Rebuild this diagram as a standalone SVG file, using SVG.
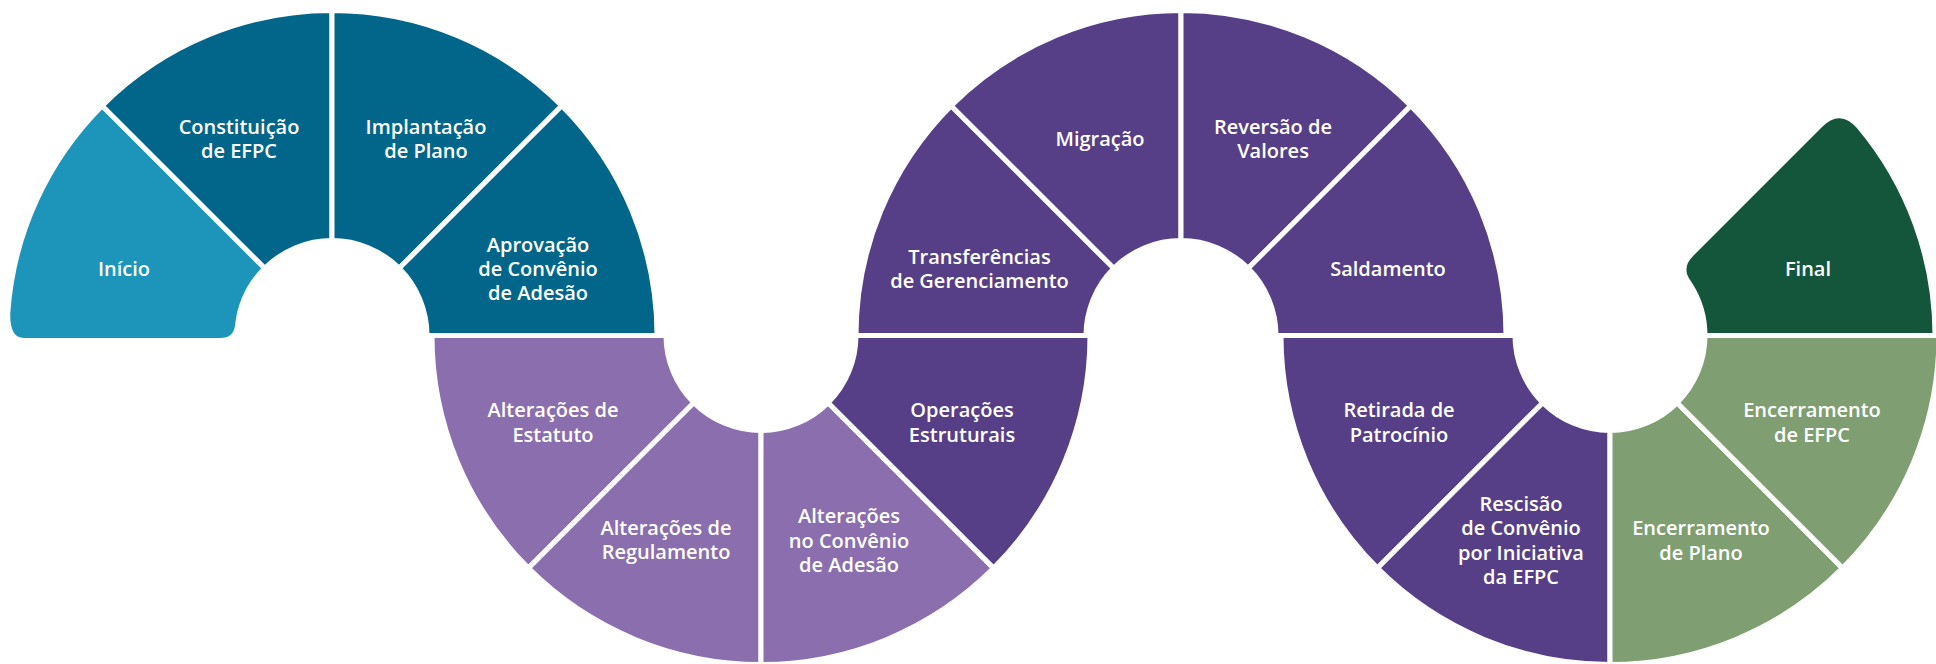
<svg xmlns="http://www.w3.org/2000/svg" width="1936" height="664" viewBox="0 0 1936 664">
<style>
.seg{stroke:#ffffff;stroke-width:5;stroke-linejoin:miter}
.start{fill:#1d94b9}
.teal{fill:#02668a}
.lp{fill:#8a6ead}
.dp{fill:#563f87}
.lg{fill:#7f9f72}
.dg{fill:#14563c}
text{font-family:"Open Sans","Liberation Sans",sans-serif;font-weight:600;font-size:20px;fill:#ffffff;text-anchor:middle}
</style>
<rect width="1936" height="664" fill="#ffffff"/>
<g id="connectors"></g>
<g id="inicio">
<path class="seg start" d="M102.19 105.69 A325 325 0 0 0 7.79 312.83 Q7 340.5 24 340.5 L220 340.5 Q236 340.5 237.52 325.57 A95 95 0 0 1 264.82 268.32 Z"/>
<text x="124" y="276">Início</text>
</g>
<g id="constituicao">
<path class="seg teal" d="M332 240.5 L332 10.5 A325 325 0 0 0 102.19 105.69 L264.82 268.32 A95 95 0 0 1 332 240.5 Z"/>
<text x="239" y="134">Constituição</text>
<text x="239" y="157.5">de EFPC</text>
</g>
<g id="implantacao">
<path class="seg teal" d="M399.18 268.32 L561.81 105.69 A325 325 0 0 0 332 10.5 L332 240.5 A95 95 0 0 1 399.18 268.32 Z"/>
<text x="426" y="134">Implantação</text>
<text x="426" y="157.5">de Plano</text>
</g>
<g id="aprovacao">
<path class="seg teal" d="M427 335.5 L657 335.5 A325 325 0 0 0 561.81 105.69 L399.18 268.32 A95 95 0 0 1 427 335.5 Z"/>
<text x="538" y="252">Aprovação</text>
<text x="538" y="276">de Convênio</text>
<text x="538" y="300">de Adesão</text>
</g>
<g id="alt-estatuto">
<path class="seg lp" d="M693.82 402.68 L528.36 568.14 A329 329 0 0 1 432 335.5 L666 335.5 A95 95 0 0 0 693.82 402.68 Z"/>
<text x="553" y="417">Alterações de</text>
<text x="553" y="441.5">Estatuto</text>
</g>
<g id="alt-regulamento">
<path class="seg lp" d="M761 430.5 L761 664.5 A329 329 0 0 1 528.36 568.14 L693.82 402.68 A95 95 0 0 0 761 430.5 Z"/>
<text x="666" y="535">Alterações de</text>
<text x="666" y="559">Regulamento</text>
</g>
<g id="alt-convenio">
<path class="seg lp" d="M828.18 402.68 L993.64 568.14 A329 329 0 0 1 761 664.5 L761 430.5 A95 95 0 0 0 828.18 402.68 Z"/>
<text x="849" y="523">Alterações</text>
<text x="849" y="547.5">no Convênio</text>
<text x="849" y="571.5">de Adesão</text>
</g>
<g id="operacoes">
<path class="seg dp" d="M856 335.5 L1090 335.5 A329 329 0 0 1 993.64 568.14 L828.18 402.68 A95 95 0 0 0 856 335.5 Z"/>
<text x="962" y="417">Operações</text>
<text x="962" y="441.5">Estruturais</text>
</g>
<g id="transferencias">
<path class="seg dp" d="M1113.82 268.32 L951.19 105.69 A325 325 0 0 0 856 335.5 L1086 335.5 A95 95 0 0 1 1113.82 268.32 Z"/>
<text x="979.5" y="264">Transferências</text>
<text x="979.5" y="288">de Gerenciamento</text>
</g>
<g id="migracao">
<path class="seg dp" d="M1181 240.5 L1181 10.5 A325 325 0 0 0 951.19 105.69 L1113.82 268.32 A95 95 0 0 1 1181 240.5 Z"/>
<text x="1100" y="146">Migração</text>
</g>
<g id="reversao">
<path class="seg dp" d="M1248.18 268.32 L1410.81 105.69 A325 325 0 0 0 1181 10.5 L1181 240.5 A95 95 0 0 1 1248.18 268.32 Z"/>
<text x="1273" y="134">Reversão de</text>
<text x="1273" y="157.5">Valores</text>
</g>
<g id="saldamento">
<path class="seg dp" d="M1276 335.5 L1506 335.5 A325 325 0 0 0 1410.81 105.69 L1248.18 268.32 A95 95 0 0 1 1276 335.5 Z"/>
<text x="1388" y="276">Saldamento</text>
</g>
<g id="retirada">
<path class="seg dp" d="M1542.82 402.68 L1377.36 568.14 A329 329 0 0 1 1281 335.5 L1515 335.5 A95 95 0 0 0 1542.82 402.68 Z"/>
<text x="1399" y="417">Retirada de</text>
<text x="1399" y="441.5">Patrocínio</text>
</g>
<g id="rescisao">
<path class="seg dp" d="M1610 430.5 L1610 664.5 A329 329 0 0 1 1377.36 568.14 L1542.82 402.68 A95 95 0 0 0 1610 430.5 Z"/>
<text x="1521" y="511">Rescisão</text>
<text x="1521" y="535">de Convênio</text>
<text x="1521" y="559.5">por Iniciativa</text>
<text x="1521" y="584">da EFPC</text>
</g>
<g id="enc-plano">
<path class="seg lg" d="M1677.18 402.68 L1842.64 568.14 A329 329 0 0 1 1610 664.5 L1610 430.5 A95 95 0 0 0 1677.18 402.68 Z"/>
<text x="1701" y="535">Encerramento</text>
<text x="1701" y="559.5">de Plano</text>
</g>
<g id="enc-efpc">
<path class="seg lg" d="M1705 335.5 L1939 335.5 A329 329 0 0 1 1842.64 568.14 L1677.18 402.68 A95 95 0 0 0 1705 335.5 Z"/>
<text x="1812" y="417">Encerramento</text>
<text x="1812" y="441.5">de EFPC</text>
</g>
<g id="final">
<path class="seg dg" d="M1935 335.5 A325 325 0 0 0 1858.97 126.59 Q1839.81 105.69 1820 125.5 L1691.3 254.2 Q1677.18 268.32 1689.67 283.76 A95 95 0 0 1 1705 335.5 Z"/>
<text x="1808" y="276">Final</text>
</g>
</svg>
